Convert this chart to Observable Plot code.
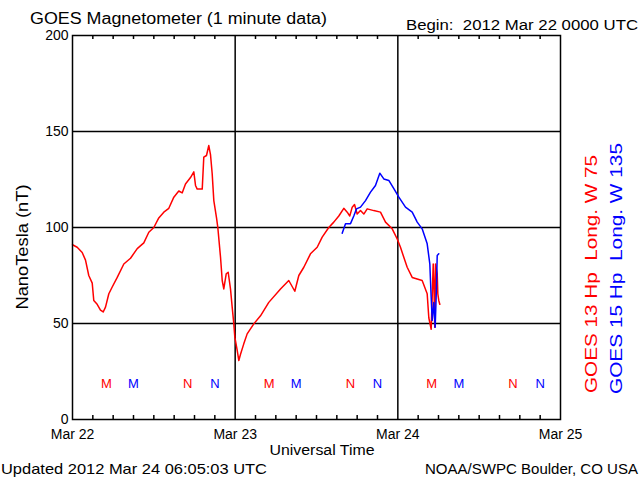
<!DOCTYPE html>
<html><head><meta charset="utf-8">
<script src="https://cdn.jsdelivr.net/npm/d3@7"></script>
<script src="https://cdn.jsdelivr.net/npm/@observablehq/plot@0.6"></script>
<style>body{margin:0;background:#fff}</style>
</head><body><div id="chart"></div>
<script>
// hours since 2012 Mar 22 00:00 UTC
const redHours = [0,0.69,1.43,1.92,2.40,2.91,3.14,3.64,4.13,4.53,4.87,5.36,5.86,6.60,7.57,8.56,9.55,10.52,11.26,12.00,12.73,13.47,14.21,14.95,15.68,16.18,16.67,17.41,17.90,18.15,18.40,19.14,19.37,19.77,20.11,20.36,20.61,20.85,21.25,21.44,21.84,22.09,22.32,22.68,22.97,23.31,23.56,23.80,23.95,24.30,24.54,24.79,25.27,25.77,26.75,27.74,28.96,30.69,31.91,32.80,33.39,34.13,35.11,36.10,36.84,37.81,38.55,39.29,40.03,40.53,40.91,41.27,41.61,42.00,42.49,42.98,43.48,44.45,45.44,46.18,47.17,47.91,48.39,48.88,49.38,50.12,51.59,52.33,52.57,52.92,53.07,53.22,53.31,53.45,53.56,53.81,53.90,54.04,54.19];
const redValues = [91,89.7,87,83,75,71,62,60,57,56,58.5,65.5,69,74,81,84,89,92,97.5,100,105,108,110,115.8,119,118,122.7,126,129,121.9,120,120,136.6,137.5,142.7,138,128,114,105,100,84.5,72.4,68,75.9,76.7,68,58.5,49.8,42.9,36,30.7,34,39.4,44.6,49.8,54,61,68,72.4,66.8,75,79.3,86.3,89.7,95,100,102.8,106,110,108,106,110.6,112,107,108.8,107,109.7,108.8,108,102.8,99.3,94,89.7,84.5,79.3,74,72.4,65.5,53,47,63.7,81,72.4,48,81,76,65.5,62,60];
const blueHours = [39.79,40.28,41.02,41.50,41.90,42.49,43.23,43.97,44.70,45.34,45.93,46.67,47.41,48.15,49.13,50.12,50.86,51.59,52.33,52.72,52.92,53.07,53.31,53.51,53.70,53.81,54.04];
const blueValues = [97,102,102,106,109.7,110.6,114,118.4,121.9,128.3,125.3,124.5,120.2,115.8,110.6,108,102.8,99.3,91.5,81,63.7,51.6,61,48,69,85.4,86.3];

const markerHours = [5,9,17,21,29,33,41,45,53,57,65,69];
const markerLabels = ["M","M","N","N","M","M","N","N","M","M","N","N"];
const markerSeries = ["GOES 13","GOES 15","GOES 13","GOES 15","GOES 13","GOES 15","GOES 13","GOES 15","GOES 13","GOES 15","GOES 13","GOES 15"];

const yTicks = [0,50,100,150,200];
const xTicks = [0,24,48,72];
const xTickLabels = ["Mar 22","Mar 23","Mar 24","Mar 25"];
const gridY = [50,100,150];
const gridX = [24,48];
const minorTicks = [3,6,9,12,15,18,21,27,30,33,36,39,42,45,51,54,57,60,63,66,69];

const RED = "#ff0000", BLUE = "#0000ff";
const FONT = "'Liberation Sans', Arial, sans-serif";

const red = redHours.map((h, i) => ({h, v: redValues[i]}));
const blue = blueHours.map((h, i) => ({h, v: blueValues[i]}));
const markers = markerHours.map((h, i) => ({h, label: markerLabels[i], series: markerSeries[i]}));

const plot = Plot.plot({
  width: 640, height: 480,
  marginLeft: 72, marginRight: 80, marginTop: 35, marginBottom: 61,
  style: {fontFamily: FONT, fontSize: "14px", background: "white", color: "black"},
  x: {domain: [0, 72]},
  y: {domain: [0, 200]},
  marks: [
    Plot.ruleY(gridY, {stroke: "black", strokeWidth: 1.5}),
    Plot.ruleX(gridX, {stroke: "black", strokeWidth: 1.5}),
    Plot.tickX(minorTicks, {x: d => d, insetTop: 380, stroke: "black", strokeWidth: 1.5}),
    Plot.tickX(minorTicks, {x: d => d, insetBottom: 380, stroke: "black", strokeWidth: 1.5}),
    Plot.line(red, {x: "h", y: "v", stroke: RED, strokeWidth: 1.5}),
    Plot.line(blue, {x: "h", y: "v", stroke: BLUE, strokeWidth: 1.5}),
    Plot.text(markers.filter(d => d.series === "GOES 13"), {x: "h", text: "label", fill: RED, frameAnchor: "bottom", dy: -32, fontSize: 13}),
    Plot.text(markers.filter(d => d.series === "GOES 15"), {x: "h", text: "label", fill: BLUE, frameAnchor: "bottom", dy: -32, fontSize: 13}),
    Plot.axisY(yTicks, {tickSize: 0, tickPadding: 4, label: null, fontSize: 14}),
    Plot.axisX(xTicks, {tickSize: 0, tickPadding: 10, label: null, fontSize: 14, tickFormat: d => xTickLabels[xTicks.indexOf(d)]}),
    Plot.frame({stroke: "black", strokeWidth: 1.5})
  ]
});
document.getElementById("chart").append(plot);

const svg = d3.select(plot);
function addText(str, x, y, o = {}) {
  const t = svg.append("text")
    .attr("x", x).attr("y", y)
    .attr("font-family", FONT)
    .attr("font-size", o.size || 15)
    .attr("fill", o.fill || "black")
    .attr("text-anchor", o.anchor || "start")
    .style("white-space", "pre")
    .text(str);
  if (o.len) t.attr("textLength", o.len).attr("lengthAdjust", "spacingAndGlyphs");
  if (o.rotate) t.attr("transform", `rotate(${o.rotate},${x},${y})`);
  return t;
}
addText("GOES Magnetometer (1 minute data)", 30, 24, {size: 16, len: 297});
addText("Begin:  2012 Mar 22 0000 UTC", 406, 30, {size: 14, len: 232});
addText("Universal Time", 322, 455, {size: 14, len: 105, anchor: "middle"});
addText("Updated 2012 Mar 24 06:05:03 UTC", 1, 474, {size: 15, len: 266});
addText("NOAA/SWPC Boulder, CO USA", 638, 474, {size: 15, len: 213, anchor: "end"});
addText("NanoTesla (nT)", 28, 247, {size: 17, len: 125, anchor: "middle", rotate: -90});
addText("GOES 13 Hp  Long. W 75", 597, 393, {size: 17, len: 238, fill: RED, rotate: -90});
addText("GOES 15 Hp  Long. W 135", 622, 394, {size: 17, len: 251, fill: BLUE, rotate: -90});
</script>
</body></html>
